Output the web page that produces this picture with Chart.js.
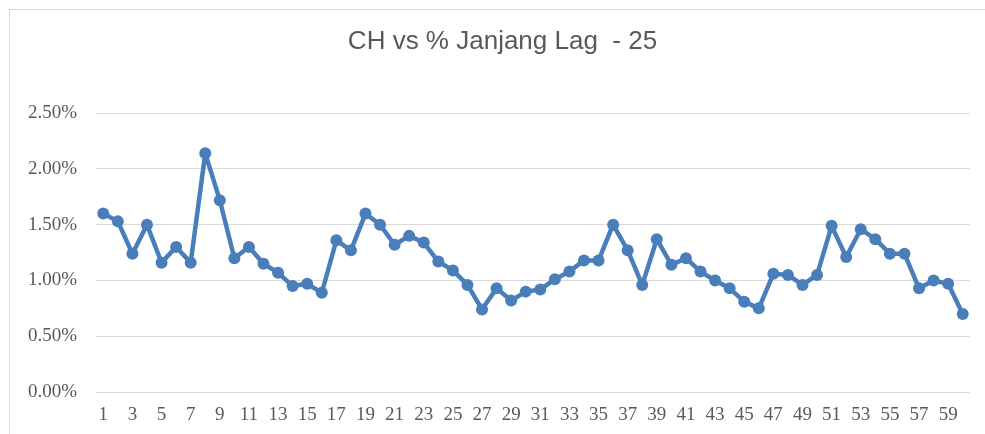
<!DOCTYPE html>
<html>
<head>
<meta charset="utf-8">
<title>CH vs % Janjang Lag - 25</title>
<script src="https://cdn.jsdelivr.net/npm/chart.js@4/dist/chart.umd.min.js"></script>
<style>
  html, body { margin: 0; padding: 0; background: #fff; overflow: hidden; }
  .frame {
    position: absolute; left: 9px; top: 9px;
    width: 985px; height: 440px;
    border: 1px solid #d9d9d9;
  }
  canvas { display: block; }
</style>
</head>
<body>
<div class="frame">
  <canvas id="lagChart" width="985" height="440"></canvas>
</div>
<script>
// Day numbers along the x axis
const days = [
  1, 2, 3, 4, 5, 6, 7, 8, 9, 10,
  11, 12, 13, 14, 15, 16, 17, 18, 19, 20,
  21, 22, 23, 24, 25, 26, 27, 28, 29, 30,
  31, 32, 33, 34, 35, 36, 37, 38, 39, 40,
  41, 42, 43, 44, 45, 46, 47, 48, 49, 50,
  51, 52, 53, 54, 55, 56, 57, 58, 59, 60
];

// % Janjang (in percent)
const janjangPct = [
  1.60, 1.53, 1.24, 1.50, 1.16, 1.30, 1.16, 2.14, 1.72, 1.20,
  1.30, 1.15, 1.07, 0.95, 0.97, 0.89, 1.36, 1.27, 1.60, 1.50,
  1.32, 1.40, 1.34, 1.17, 1.09, 0.96, 0.74, 0.93, 0.82, 0.90,
  0.92, 1.01, 1.08, 1.18, 1.18, 1.50, 1.27, 0.96, 1.37, 1.14,
  1.20, 1.08, 1.00, 0.93, 0.81, 0.75, 1.06, 1.05, 0.96, 1.05,
  1.49, 1.21, 1.46, 1.37, 1.24, 1.24, 0.93, 1.00, 0.97, 0.70
];

const yMin = 0;
const yMax = 2.5;
const yStep = 0.5;

const lineBlue = '#4a7ebb';
const textGrey = '#595959';
const gridGrey = '#d9d9d9';
const tickFont = { family: "'Liberation Serif', 'Times New Roman', serif", size: 19 };

new Chart(document.getElementById('lagChart'), {
  type: 'line',
  data: {
    labels: days,
    datasets: [{
      label: '% Janjang',
      data: janjangPct,
      borderColor: lineBlue,
      backgroundColor: lineBlue,
      borderWidth: 4.5,
      borderJoinStyle: 'round',
      borderCapStyle: 'round',
      pointRadius: 6,
      pointHoverRadius: 6,
      pointBorderWidth: 0,
      tension: 0
    }]
  },
  options: {
    responsive: false,
    animation: false,
    layout: { padding: 0 },
    plugins: {
      legend: { display: false },
      tooltip: { enabled: false },
      title: {
        display: true,
        text: 'CH vs % Janjang Lag  - 25',
        color: textGrey,
        font: { family: "'Liberation Sans', Arial, sans-serif", size: 26, weight: 'normal' },
        padding: { top: 16, bottom: 56 }
      }
    },
    scales: {
      x: {
        offset: true,
        grid: { display: false, drawTicks: false },
        border: { display: false },
        ticks: {
          autoSkip: false,
          maxRotation: 0,
          padding: 12,
          color: textGrey,
          font: tickFont,
          callback: (v, i) => (i % 2 === 0 ? days[i] : '')
        },
        afterFit: (scale) => { scale.height = 58; }
      },
      y: {
        min: yMin,
        max: yMax,
        grid: { color: gridGrey, lineWidth: 1, drawTicks: false },
        border: { display: false },
        ticks: {
          stepSize: yStep,
          padding: 19,
          color: textGrey,
          font: tickFont,
          callback: (v) => v.toFixed(2) + '%'
        },
        afterFit: (scale) => { scale.width = 86; }
      },
      // empty margin on the right of the plot
      yRight: {
        position: 'right',
        grid: { display: false, drawTicks: false },
        border: { display: false },
        ticks: { display: false },
        afterFit: (scale) => { scale.width = 25; }
      }
    }
  }
});
</script>
</body>
</html>
